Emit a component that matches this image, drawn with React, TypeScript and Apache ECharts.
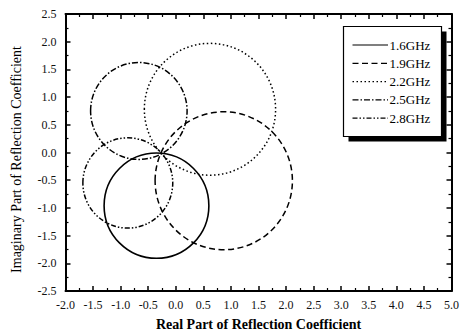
import React, { useEffect, useRef } from "react";
import * as echarts from "echarts";

// Frequencies (series names)
const seriesNames = ["1.6GHz", "1.9GHz", "2.2GHz", "2.5GHz", "2.8GHz"];
// Circle centres (real, imaginary) and radius for each frequency
const centerReal = [-0.35, 0.87, 0.62, -0.67, -0.87];
const centerImag = [-0.96, -0.51, 0.78, 0.75, -0.55];
const radius = [0.95, 1.245, 1.19, 0.875, 0.815];
// Axis ranges
const xMin = -2.0;
const xMax = 5.0;
const yMin = -2.5;
const yMax = 2.5;
const tickStep = 0.5;

const dashPatterns: (number[] | null)[] = [
  null,
  [6, 3.5],
  [1.5, 2.5],
  [6, 2, 1.5, 2],
  [5, 2, 1.5, 2, 1.5, 2],
];

const FONT = "'Liberation Serif', 'Times New Roman', serif";

export default function App() {
  const ref = useRef<HTMLDivElement>(null);
  useEffect(() => {
    if (!ref.current) return;
    const chart = echarts.init(ref.current, undefined, { renderer: "svg" });

    const fmt = (v: number) => v.toFixed(1);

    const commonX = {
      type: "value" as const,
      min: xMin,
      max: xMax,
      interval: tickStep,
      splitLine: { show: false },
      axisLine: { show: true, onZero: false, lineStyle: { color: "#000", width: 2 } },
      axisTick: { show: true, inside: true, length: 5, lineStyle: { color: "#000", width: 1.5 } },
      minorTick: { show: true, splitNumber: 2, length: 3, lineStyle: { color: "#000", width: 1.2 } },
    };
    const commonY = {
      type: "value" as const,
      min: yMin,
      max: yMax,
      interval: tickStep,
      splitLine: { show: false },
      axisLine: { show: true, onZero: false, lineStyle: { color: "#000", width: 2 } },
      axisTick: { show: true, inside: true, length: 5, lineStyle: { color: "#000", width: 1.5 } },
      minorTick: { show: true, splitNumber: 2, length: 3, lineStyle: { color: "#000", width: 1.2 } },
    };

    const series = seriesNames.map((name, i) => ({
      type: "custom" as const,
      name,
      xAxisIndex: 0,
      yAxisIndex: 0,
      data: [[centerReal[i], centerImag[i], radius[i]]],
      encode: { x: 0, y: 1 },
      clip: true,
      renderItem: (params: any, api: any) => {
        const c = api.coord([api.value(0), api.value(1)]);
        const s = api.size([api.value(2), api.value(2)]);
        return {
          type: "ellipse",
          shape: { cx: c[0], cy: c[1], rx: s[0], ry: s[1] },
          style: {
            fill: "none",
            stroke: "#000",
            lineWidth: i === 0 ? 1.6 : 1.5,
            lineDash: dashPatterns[i] || undefined,
          },
        };
      },
    }));

    // Legend box drawn from the series names
    const lgX = 343.5;
    const lgY = 26.5;
    const lgW = 98;
    const lgH = 110;
    const rowY0 = 45;
    const rowStep = 18.3;
    const legendChildren: any[] = [
      { type: "rect", shape: { x: lgX + 5, y: lgY + 5, width: lgW, height: lgH }, style: { fill: "#000" } },
      { type: "rect", shape: { x: lgX, y: lgY, width: lgW, height: lgH }, style: { fill: "#fff", stroke: "#000", lineWidth: 1.2 } },
    ];
    seriesNames.forEach((name, i) => {
      const y = rowY0 + i * rowStep;
      legendChildren.push({
        type: "line",
        shape: { x1: 352.5, y1: y, x2: 388, y2: y },
        style: { stroke: "#000", lineWidth: 1.2, lineDash: dashPatterns[i] || undefined },
      });
      legendChildren.push({
        type: "text",
        x: 389.5,
        y,
        style: { text: name, font: `13px ${FONT}`, fill: "#000", textVerticalAlign: "middle", verticalAlign: "middle" },
      });
    });

    chart.setOption({
      animation: false,
      backgroundColor: "#fff",
      grid: { left: 65.5, right: 8, top: 14, bottom: 45, containLabel: false },
      xAxis: [
        {
          ...commonX,
          position: "bottom",
          name: "Real Part of Reflection Coefficient",
          nameLocation: "middle",
          nameGap: 26,
          nameTextStyle: { fontFamily: FONT, fontSize: 14, fontWeight: "bold", color: "#000" },
          axisLabel: { show: true, margin: 8, fontFamily: FONT, fontSize: 12, color: "#111", formatter: fmt },
        },
        {
          ...commonX,
          position: "top",
          axisLabel: { show: false },
        },
      ],
      yAxis: [
        {
          ...commonY,
          position: "left",
          name: "Imaginary Part of Reflection Coefficient",
          nameLocation: "middle",
          nameGap: 42,
          nameTextStyle: { fontFamily: FONT, fontSize: 14, color: "#000", padding: [0, 14, 0, 0] },
          axisLabel: { show: true, margin: 9, fontFamily: FONT, fontSize: 12, color: "#111", formatter: fmt },
        },
        {
          ...commonY,
          position: "right",
          axisLabel: { show: false },
        },
      ],
      series,
      graphic: [{ type: "group", children: legendChildren }],
    });

    return () => chart.dispose();
  }, []);

  return <div ref={ref} style={{ width: 462, height: 336, position: "absolute", left: 0, top: 0 }} />;
}
